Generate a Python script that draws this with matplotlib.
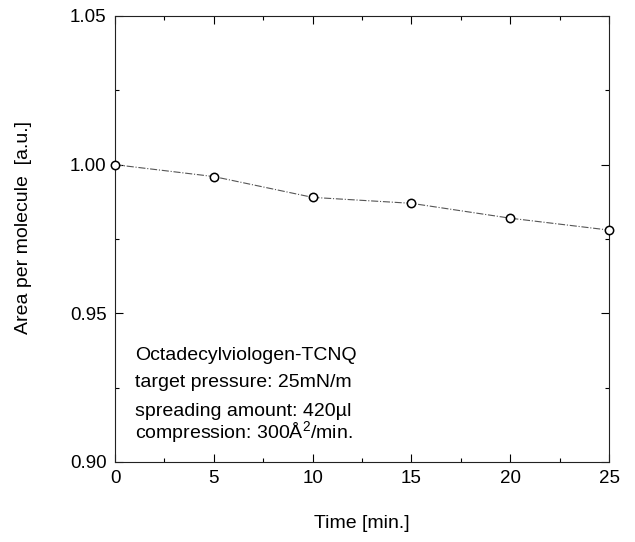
import matplotlib
matplotlib.use("Agg")
import matplotlib.pyplot as plt
from matplotlib.ticker import MultipleLocator

# 読み取り値
time_min = [0, 5, 10, 15, 20, 25]
area = [1.000, 0.996, 0.989, 0.987, 0.982, 0.978]

x_ticks = [0, 5, 10, 15, 20, 25]
y_ticks = [0.90, 0.95, 1.00, 1.05]

info_lines = [
    "Octadecylviologen-TCNQ",
    "target pressure: 25mN/m",
    "spreading amount: 420\u00b5l",
    "compression: 300\u00c5$^2$/min.",
]

plt.rcParams["font.family"] = ["Liberation Sans", "DejaVu Sans"]
plt.rcParams["mathtext.fontset"] = "custom"
plt.rcParams["mathtext.rm"] = "Liberation Sans"

fig = plt.figure(figsize=(6.35, 5.42), dpi=100)
ax = fig.add_axes([115 / 635, 1 - 462 / 542, (609 - 115) / 635, (462 - 16) / 542])

ax.plot(time_min, area, linestyle="-.", color="#555555", linewidth=0.8,
        marker="o", markersize=6, markerfacecolor="white",
        markeredgecolor="black", markeredgewidth=1.1, clip_on=False, zorder=3)

ax.set_xlim(0, 25)
ax.set_ylim(0.90, 1.05)
ax.set_xticks(x_ticks)
ax.set_yticks(y_ticks)
ax.set_yticklabels([f"{v:.2f}" for v in y_ticks])
ax.xaxis.set_minor_locator(MultipleLocator(2.5))
ax.yaxis.set_minor_locator(MultipleLocator(0.025))
ax.tick_params(which="both", direction="in", top=True, right=True,
               labelsize=13.5, width=0.8)
ax.tick_params(which="major", length=6, pad=6)
ax.tick_params(which="minor", length=3)
for s in ax.spines.values():
    s.set_linewidth(0.8)
    s.set_color("#222222")

ax.set_xlabel("Time [min.]", fontsize=14, labelpad=20)
ax.set_ylabel("Area per molecule  [a.u.]", fontsize=14)
ax.yaxis.set_label_coords(-0.168, 0.525)

# 注記は1行ずつ置く（上付き文字で行間がずれないように）
line_y = [0.229, 0.168, 0.103, 0.052]
for txt, yy in zip(info_lines, line_y):
    ax.text(0.04, yy, txt, transform=ax.transAxes, fontsize=14,
            va="baseline", ha="left")

fig.savefig("out.png", dpi=100, facecolor="white")
